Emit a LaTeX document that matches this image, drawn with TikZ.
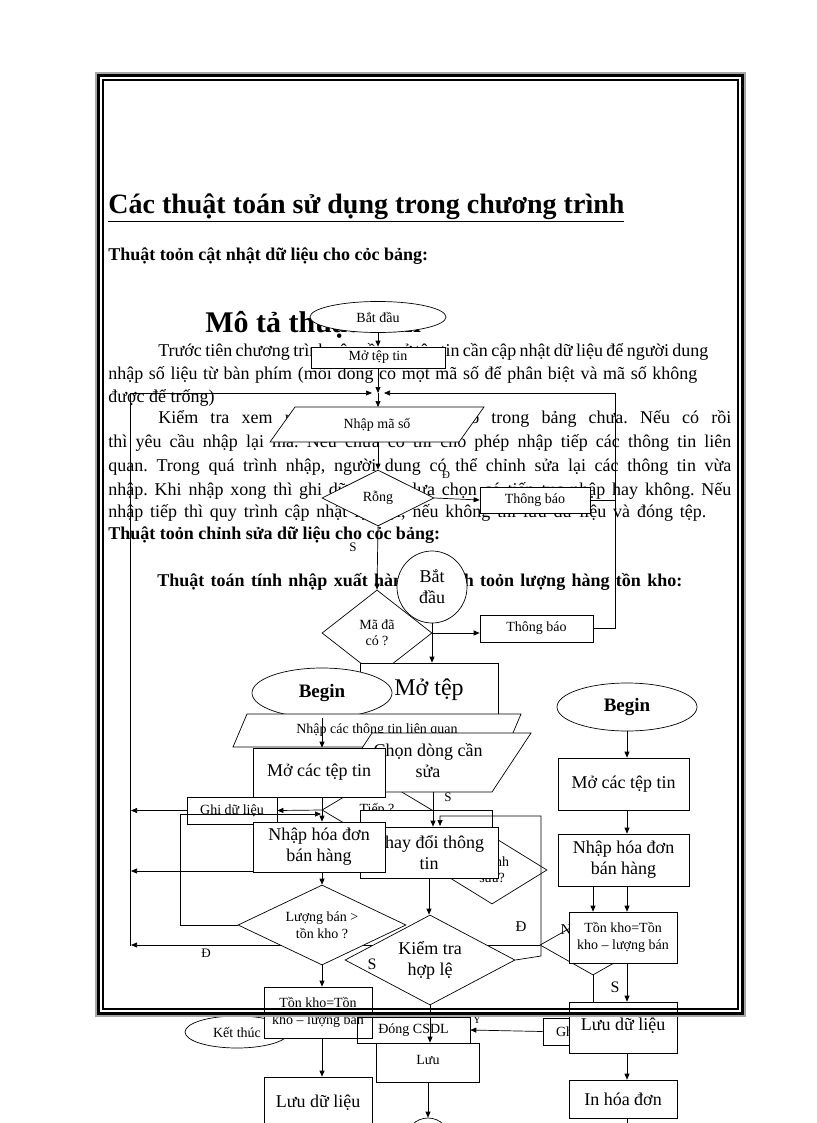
\documentclass[tikz,border=0pt]{standalone}
\usepackage{fontspec}
\setmainfont{Liberation Serif}[BoldFont={Liberation Serif Bold},ItalicFont={Liberation Serif Italic}]
\usetikzlibrary{shapes.geometric,arrows.meta}
\frenchspacing
\newcommand\FsBody{\fontsize{18}{22}\selectfont}
\newcommand\FsS{\fontsize{14}{16}\selectfont}
\newcommand\FsM{\fontsize{18}{21}\selectfont}
\newcommand\FsT{\fontsize{14}{17}\selectfont}
\newcommand\FsBeg{\fontsize{19}{22}\selectfont\bfseries}
\newcommand\FsL{\fontsize{13}{13}\selectfont}
\begin{document}
\begin{tikzpicture}[x=1pt,y=-1pt,line width=0.7pt,
  arr/.style={-{Triangle[length=6pt,width=5pt]}},
  box/.style={draw, fill=white, inner sep=0pt, align=center},
  dia/.style={diamond, draw, fill=white, inner sep=0pt, align=center},
  ell/.style={ellipse, draw, fill=white, inner sep=0pt, align=center},
  txt/.style={inner sep=0pt, anchor=base west},
  lbl/.style={inner sep=0pt, font=\FsL},
  shp/.style={draw, fill=white}
]
\useasboundingbox (0,0) rectangle (816,1123);
\fill[white] (0,0) rectangle (816,1123);

% ---------- text ----------
\node[txt] (title) at (108,214) {\fontsize{28}{32}\selectfont\bfseries\underline{Các thuật toán sử dụng trong chương trình}};
\node[txt] (h1) at (108,260) {\FsBody\bfseries Thuật toỏn cật nhật dữ liệu cho cỏc bảng:};
\node[txt] (h2) at (205,332) {\fontsize{30}{34}\selectfont\bfseries Mô tả thuật toán};
\node[txt] (l1) at (158,356) {\FsBody\makebox[550pt][s]{Trước tiên chương trình yêu cầu mở tệp tin cần cập nhật dữ liệu để người dung}};
\node[txt] (l2) at (108,379) {\FsBody\makebox[589pt][s]{nhập số liệu từ bàn phím (mỗi dòng có một mã số để phân biệt và mã số không}};
\node[txt] (l3) at (108,402) {\FsBody được để trống)};
\node[txt] (l4) at (158,423) {\FsBody\makebox[573pt][s]{Kiểm tra xem mã số vừa nhập đã có trong bảng chưa. Nếu có rồi}};
\node[txt] (l5) at (108,447) {\FsBody\makebox[623pt][s]{thì yêu cầu nhập lại mã. Nếu chưa có thì cho phép nhập tiếp các thông tin liên}};
\node[txt] (l6) at (108,471) {\FsBody\makebox[623pt][s]{quan. Trong quá trình nhập, người dung có thể chỉnh sửa lại các thông tin vừa}};
\node[txt] (l7) at (108,495) {\FsBody\makebox[623pt][s]{nhập. Khi nhập xong thì ghi dữ liệu và lựa chọn có tiếp tục nhập hay không. Nếu}};
\node[txt] (l8) at (108,517) {\FsBody\makebox[598pt][s]{nhập tiếp thì quy trình cập nhật lặp lại, nếu không thì lưu dữ liệu và đóng tệp.}};
\node[txt] (l9) at (108,539) {\FsBody\bfseries Thuật toỏn chỉnh sửa dữ liệu cho cỏc bảng:};
\node[txt] (l10) at (157,586) {\FsBody\bfseries\makebox[525pt][s]{Thuật toán tính nhập xuất hàng và tính toỏn lượng hàng tồn kho:}};

% ---------- flowchart 1 (top) ----------
\node[ell, minimum width=136, minimum height=31, font=\FsS] (e1) at (378,317) {Bắt đầu};
\node[box, minimum width=134, minimum height=21, font=\FsS] (b1) at (378,357.5) {Mở tệp tin};
\coordinate (j1) at (378,393);
\draw[shp] (295,407) -- (484,407) -- (459,442) -- (270,442) -- cycle;
\node[font=\FsS, inner sep=0pt] (p1) at (377,424.5) {Nhập mã số};
\coordinate (p1n) at (378,407);
\coordinate (p1s) at (378,442);
\node[dia, minimum width=112, minimum height=56, aspect=2, font=\FsS] (d1) at (378,498) {Rỗng};
\node[box, minimum width=110, minimum height=26, font=\FsS] (t1) at (535,500) {Thông báo};
\node[ell, minimum width=70, minimum height=72, font=\FsM] (c3) at (432,587) {Bắt\\đầu};
\node[dia, minimum width=110, minimum height=86, aspect=1.28, font=\FsS] (d2) at (377,633) {Mã đã\\có ?};
\node[box, minimum width=113, minimum height=27, font=\FsS] (t2) at (536.5,628.5) {Thông báo};

\draw[arr] (e1.south) -- (b1.north);
\draw[arr] (b1.south) -- (j1);
\draw[arr] (j1) -- (p1n);
\draw[arr] (p1s) -- (d1.north);
\draw[arr] (d1.east) -- (t1.west);
\draw[arr] (d1.south) -- (d2.north);
\draw[arr] (d2.east) -- (d2.east -| t2.west);
\draw (t1.east) -- (615,500);
\draw[arr] (t2.east) -- (615,628.5) -- (615,393) -- (384,393);
\draw[arr] (130,946) -- (130,393) -- (372,393);
\node[lbl, font=\fontsize{11}{11}\selectfont] (lD1) at (446,475) {Đ};
\node[lbl] (lS1) at (353,547) {S};

% ---------- flowchart 3 top / flowchart 2 begin ----------
\node[box, minimum width=138, minimum height=57, font=\fontsize{24}{28}\selectfont] (mt) at (429,691.5) {\raisebox{8pt}{Mở tệp}};
\draw[arr] (c3.south) -- (c3.south |- mt.north);
\node[ell, minimum width=140, minimum height=50, font=\FsBeg] (bl) at (322,693) {Begin};
\draw[shp] (247,714) -- (521,714) -- (507,747) -- (233,747) -- cycle;
\node[font=\FsS, inner sep=0pt] (p2) at (377,730) {Nhập các thông tin liên quan};

% hidden diamond on the right
\node[dia, minimum width=106, minimum height=60, aspect=1.8] (d5) at (593,945) {};
\draw[arr] (d5.west) -- (131,945);
\node[lbl] (lD3) at (206,953) {Đ};

\node[box, minimum width=90, minimum height=27, font=\FsS] (g1) at (232,810.5) {Ghi dữ liệu};
\node[dia, minimum width=110, minimum height=66, aspect=1.67, font=\FsS] (d3) at (377,810) {Tiếp ?};

\draw[shp] (372,733) -- (531,733) -- (492,792) -- (333,792) -- cycle;
\node[font=\FsM, align=center, inner sep=0pt] (ch) at (428,761) {Chọn dòng cần\\sửa};
\coordinate (chs) at (433,792);
\node[lbl] (lS2) at (448,797) {S};

\node[box, minimum width=132, minimum height=68] (rr) at (426,844) {};
\node[dia, minimum width=110, minimum height=68, aspect=1.6, font=\FsS] (d4) at (492,870) {Chỉnh\\sửa?};
\node[box, minimum width=138, minimum height=51, font=\FsM] (td) at (429,852.5) {Thay đổi thông\\tin};
\draw[arr] (chs) -- (chs |- td.north);
\node[dia, minimum width=170, minimum height=90, aspect=1.9, font=\FsM] (kt) at (430,960) {Kiểm tra\\hợp lệ};
\draw[arr] (td.south) -- (td.south |- kt.north);
\draw[arr] (kt.east) -- (541,956) -- (541,816) -| (440,826);
\node[lbl, font=\fontsize{16}{16}\selectfont] (lS3) at (372,964) {S};
\node[lbl, font=\fontsize{15}{15}\selectfont] (lD2) at (521,927) {Đ};
\node[lbl, font=\fontsize{15}{15}\selectfont] (lN) at (566,930) {N};

% ---------- bottom of flowchart 1 ----------
\node[ell, minimum width=104, minimum height=32, font=\FsS] (end1) at (237,1032) {Kết thúc};
\node[box, minimum width=47, minimum height=27, font=\FsS] (gb) at (566.5,1031.5) {Ghi};
\node[box, minimum width=103, minimum height=39, font=\FsS] (luu) at (428,1062.5) {\raisebox{5pt}{Lưu}};
\node[circle, draw, fill=white, minimum size=44, inner sep=0pt] (endc) at (428,1140) {};
\draw[arr] (luu.south) -- (endc.north);

% ---------- flowchart 2 (left) ----------
\node[box, minimum width=132, minimum height=49, font=\FsM] (mc1) at (319,772.5) {\raisebox{3pt}{Mở các tệp tin}};
\draw[arr] (bl.south) -- (bl.south |- mc1.north);
\node[box, minimum width=132, minimum height=50, font=\FsM] (nh1) at (319,847) {Nhập hóa đơn\\bán hàng};
\draw[arr] (bl.south |- mc1.south) -- (bl.south |- nh1.north);
\node[dia, minimum width=168, minimum height=80, aspect=2.1, font=\FsT] (lb) at (322,925) {Lượng bán >\\tồn kho ?};
\draw[arr] (bl.south |- nh1.south) -- (lb.north);
\node[box, minimum width=108, minimum height=51, font=\FsT] (tk1) at (318,1012.5) {Tồn kho=Tồn\\kho – lượng bán};
\draw[arr] (lb.south) -- (lb.south |- tk1.north);
\node[box, minimum width=108, minimum height=60, font=\FsM] (ld1) at (318,1107) {\raisebox{12pt}{Lưu dữ liệu}};
\draw[arr] (lb.south |- tk1.south) -- (lb.south |- ld1.north);

\draw[arr] (d3.west) -- (g1.east);
\draw[arr] (g1.west) -- (131,810.5);
\draw[arr] (lb.west) -- (180,925) -- (180,814) -- (321,814);
\coordinate (y871) at (0,871);
\draw[arr] (nh1.west |- y871) -- (131,871);

\node[draw, minimum width=113, minimum height=26, inner sep=0pt, font=\FsS] (dong) at (413.5,1030) {Đóng CSDL};
\draw[arr] (gb.west) -- (dong.east);
\node[lbl, font=\fontsize{11}{11}\selectfont] (lY) at (477,1020) {Y};
\draw[arr] (kt.south) -- (kt.south |- luu.north);

% ---------- flowchart 4 (right) ----------
\node[ell, minimum width=140, minimum height=48, font=\FsBeg] (br) at (627,707) {Begin};
\node[box, minimum width=131, minimum height=52, font=\FsM] (mc2) at (623.5,784) {Mở các tệp tin};
\draw[arr] (br.south) -- (br.south |- mc2.north);
\node[box, minimum width=131, minimum height=52, font=\FsM] (nh2) at (623.5,860) {Nhập hóa đơn\\bán hàng};
\draw[arr] (br.south |- mc2.south) -- (br.south |- nh2.north);
\node[box, minimum width=108, minimum height=51, font=\FsT] (tk2) at (623,937.5) {Tồn kho=Tồn\\kho – lượng bán};
\draw[arr] (d5.south |- nh2.south) -- (d5.south |- tk2.north);
\draw[arr] (br.south |- nh2.south) -- (br.south |- tk2.north);
\node[lbl, font=\fontsize{16}{16}\selectfont] (lS4) at (615,987) {S};
\node[box, minimum width=108, minimum height=51, font=\FsM] (ld2) at (623,1027.5) {\raisebox{7pt}{Lưu dữ liệu}};
\draw (d5.south) -- (d5.south |- ld2.north);
\draw[arr] (br.south |- tk2.south) -- (br.south |- ld2.north);
\node[box, minimum width=108, minimum height=38, font=\FsM] (hd2) at (623,1099) {In hóa đơn};
\draw[arr] (br.south |- ld2.south) -- (br.south |- hd2.north);
\coordinate (pgbot) at (0,1130);
\draw (br.south |- hd2.south) -- (br.south |- pgbot);

% ---------- page frame ----------
\draw[gray!70, line width=1.5pt] (96,73) rectangle (745,1016);
\draw[line width=2.8pt] (98.5,75.5) rectangle (742.5,1013.5);
\draw[line width=1.2pt] (103,80) rectangle (738,1009);
\end{tikzpicture}
\end{document}
